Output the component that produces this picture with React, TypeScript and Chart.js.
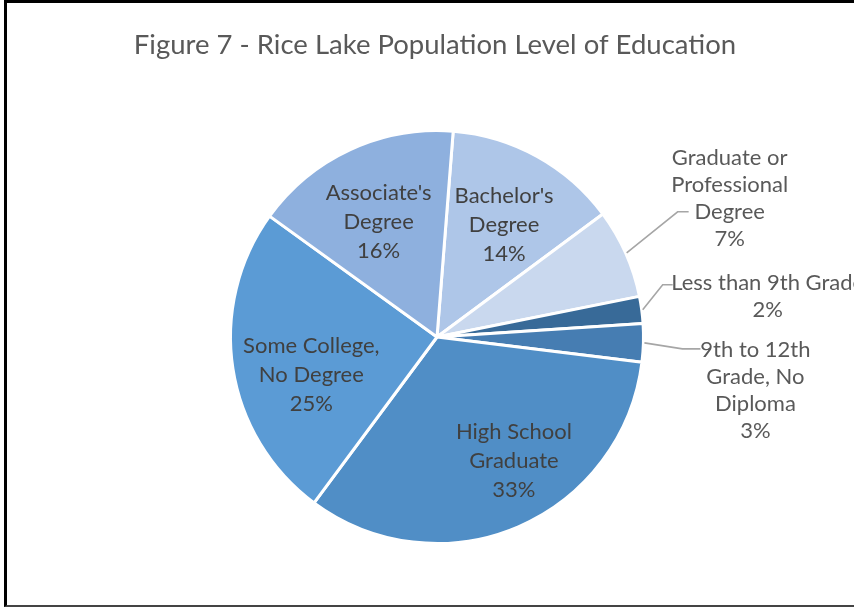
import React, { useEffect, useRef } from "react";
import { Chart, registerables } from "chart.js";

Chart.register(...registerables);

const TITLE = "Figure 7 - Rice Lake Population Level of Education";

const categories: string[][] = [
  ["Bachelor's", "Degree"],
  ["Graduate or", "Professional", "Degree"],
  ["Less than 9th Grade"],
  ["9th to 12th", "Grade, No", "Diploma"],
  ["High School", "Graduate"],
  ["Some College,", "No Degree"],
  ["Associate's", "Degree"],
];

const shares: number[] = [13.6, 7.0, 2.1, 3.0, 33.2, 24.8, 16.3];

const sliceColors: string[] = [
  "#AEC6E8",
  "#C9D8EE",
  "#386A98",
  "#467DB2",
  "#508EC6",
  "#5B9BD5",
  "#8EB0DE",
];

// label placement (style, not data)
const FONT_FAMILY = "Lato, 'Open Sans', sans-serif";
const LABEL_SIZE = 22;
const TITLE_SIZE = 27.5;
const INSIDE_LH = 29;
const OUTSIDE_LH = 27;
const INSIDE_FRAC = 0.65;

type Inside = { kind: "in"; dx: number; dy: number };
type Outside = { kind: "out"; elbow: [number, number]; tail: number; text: [number, number] };

const labelPlacement: (Inside | Outside)[] = [
  { kind: "in", dx: 2, dy: 5 },
  { kind: "out", elbow: [51, -41], tail: 11, text: [41, -13.5] },
  { kind: "out", elbow: [20, -25], tail: 10, text: [95, 11.5] },
  { kind: "out", elbow: [38, 6], tail: 18, text: [55, 42] },
  { kind: "in", dx: 24, dy: 1 },
  { kind: "in", dx: 7, dy: 17.5 },
  { kind: "in", dx: -2, dy: 7 },
];

const labelPlugin = {
  id: "pieLabels",
  afterDatasetsDraw(chart: any) {
    const ctx: CanvasRenderingContext2D = chart.ctx;
    const meta = chart.getDatasetMeta(0);
    const data: number[] = chart.data.datasets[0].data;
    const total = data.reduce((a, b) => a + b, 0);
    ctx.save();
    ctx.textAlign = "center";
    ctx.textBaseline = "middle";
    ctx.font = `${LABEL_SIZE}px ${FONT_FAMILY}`;
    meta.data.forEach((arc: any, i: number) => {
      const { x, y, startAngle, endAngle, outerRadius } = arc.getProps(
        ["x", "y", "startAngle", "endAngle", "outerRadius"],
        true
      );
      const mid = (startAngle + endAngle) / 2;
      const pct = Math.round((data[i] / total) * 100) + "%";
      const lines = [...categories[i], pct];
      const p = labelPlacement[i];
      let cx: number, cy: number, lh: number;
      if (p.kind === "in") {
        const r = outerRadius * INSIDE_FRAC;
        cx = x + Math.cos(mid) * r + p.dx;
        cy = y + Math.sin(mid) * r + p.dy;
        lh = INSIDE_LH;
        ctx.fillStyle = "#404040";
      } else {
        const r = outerRadius + 1;
        const sx = x + Math.cos(mid) * r;
        const sy = y + Math.sin(mid) * r;
        const ex = sx + p.elbow[0];
        const ey = sy + p.elbow[1];
        const tx = ex + p.tail;
        ctx.strokeStyle = "#A6A6A6";
        ctx.lineWidth = 1.6;
        ctx.beginPath();
        ctx.moveTo(sx, sy);
        ctx.lineTo(ex, ey);
        ctx.lineTo(tx, ey);
        ctx.stroke();
        cx = tx + p.text[0];
        cy = ey + p.text[1];
        lh = OUTSIDE_LH;
        ctx.fillStyle = "#595959";
      }
      const n = lines.length;
      lines.forEach((t, k) => {
        ctx.fillText(t, cx, cy + (k - (n - 1) / 2) * lh);
      });
    });
    // title
    ctx.fillStyle = "#595959";
    ctx.font = `${TITLE_SIZE}px ${FONT_FAMILY}`;
    ctx.fillText(TITLE, 435, 45);
    ctx.restore();
  },
};

export default function App() {
  const ref = useRef<HTMLCanvasElement | null>(null);
  useEffect(() => {
    if (!ref.current) return;
    const chart = new Chart(ref.current, {
      type: "pie",
      data: {
        labels: categories.map((c) => c.join(" ")),
        datasets: [
          {
            data: shares,
            backgroundColor: sliceColors,
            borderColor: "#FFFFFF",
            borderWidth: 3,
          },
        ],
      },
      options: {
        responsive: false,
        animation: false,
        rotation: 4.5,
        layout: { padding: { left: 229, right: 209, top: 129, bottom: 62 } },
        plugins: {
          legend: { display: false },
          tooltip: { enabled: false },
          title: { display: false },
        },
      },
      plugins: [labelPlugin],
    });
    return () => chart.destroy();
  }, []);
  return (
    <div style={{ position: "absolute", top: 0, left: 0, width: 854, height: 607, background: "#fff", overflow: "hidden" }}>
      <canvas ref={ref} width={854} height={607} style={{ display: "block" }} />
      <div
        style={{
          position: "absolute",
          left: 4,
          top: 0,
          width: 860,
          height: 607,
          boxSizing: "border-box",
          borderLeft: "3px solid #000",
          borderTop: "3px solid #000",
          borderBottom: "2px solid #444",
          pointerEvents: "none",
        }}
      />
    </div>
  );
}
